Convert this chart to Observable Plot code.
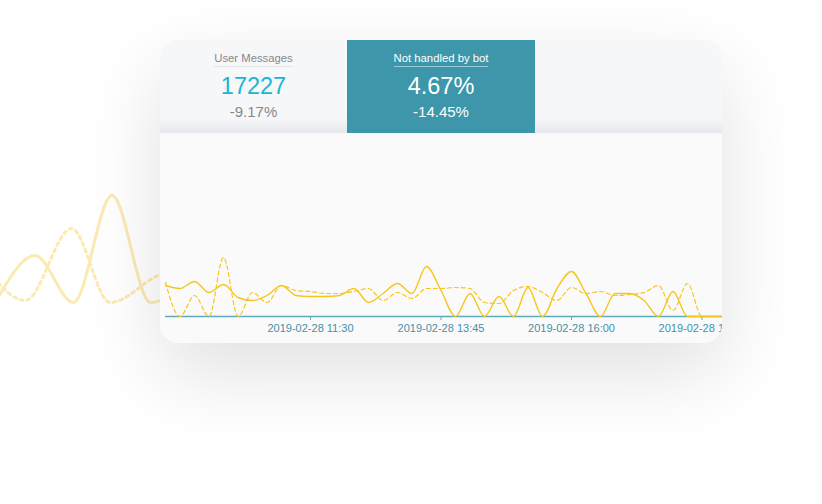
<!DOCTYPE html>
<html>
<head>
<meta charset="utf-8">
<script src="https://cdn.jsdelivr.net/npm/d3@7"></script>
<script src="https://cdn.jsdelivr.net/npm/@observablehq/plot@0.6"></script>
<style>
  html, body { margin: 0; padding: 0; background: #fff; width: 822px; height: 504px; overflow: hidden; font-family: "Liberation Sans", Arial, sans-serif; }
  #deco { position: absolute; left: 0; top: 0; z-index: 0; }
  #card { position: absolute; left: 160px; top: 40px; width: 562px; height: 303px; border-radius: 18px; overflow: hidden; background: #fafafa; box-shadow: 0 30px 80px rgba(0,0,0,0.12); z-index: 1; }
  #header { position: absolute; left: 0; top: 0; width: 562px; height: 93px; background: linear-gradient(#f6f7f9 0%, #f6f7f9 84%, #e5e8ec 100%); }
  .tab { position: absolute; top: 0; height: 93px; text-align: center; }
  .tab .lbl { position: absolute; left: 0; right: 0; top: 12px; font-size: 11.3px; }
  .tab .lbl span { display: inline-block; padding-bottom: 2px; border-bottom: 1px solid #e6e6e6; }
  .tab .val { position: absolute; left: 0; right: 0; top: 33px; font-size: 23.5px; }
  .tab .chg { position: absolute; left: 0; right: 0; top: 63px; font-size: 15px; }
  #t1 { left: 0; width: 187px; color: #888; }
  #t1 .val { color: #19b5d5; }
  #t2 { left: 187px; width: 188px; background: #3d96a9; color: #fff; }
  #t2 .lbl span { border-bottom: 1px solid #9bcbd6; }
  #chart { position: absolute; left: 0; top: 93px; }
</style>
</head>
<body>
<div id="deco"></div>
<div id="card">
  <div id="header">
    <div class="tab" id="t1"><div class="lbl"><span id="l1"></span></div><div class="val" id="v1"></div><div class="chg" id="c1"></div></div>
    <div class="tab" id="t2"><div class="lbl"><span id="l2"></span></div><div class="val" id="v2"></div><div class="chg" id="c2"></div></div>
  </div>
  <div id="chart"></div>
</div>
<script>
// KPI tabs
const kpiLabels = ["User Messages", "Not handled by bot"];
const kpiValues = ["17227", "4.67%"];
const kpiChanges = ["-9.17%", "-14.45%"];

// time series: 15-minute buckets starting 2019-02-28 09:00
const startTime = "2019-02-28T09:00:00Z";
const stepMinutes = 15;
const solidSeries = [31,28,35,24,32,19,16,21,31,21,20,20,21,28,14,23,33,23,50,26,0,23,0,20,0,29,0,28,45,23,0,23,23,16,0,25,0,0,0,0];
const dashedSeries = [34,0,21,0,59,0,24,14,31,26,25,23,23,25,28,16,24,18,28,28,29,28,14,13,26,30,24,16,29,23,25,21,22,24,31,6,33,0,0,0];
const tickLabels = ["2019-02-28T11:30:00Z", "2019-02-28T13:45:00Z", "2019-02-28T16:00:00Z", "2019-02-28T18:15:00Z"];

// decorative background wave (left of the card)
const decoSolidT = [0, 1, 2, 3, 4, 5];
const decoSolidV = [2, 47, 0, 107, 0, 20];
const decoDotT = [-0.4, 0.75, 1.95, 2.95, 4.2, 5.3];
const decoDotV = [42, 2, 74, 0, 27, 40];

document.getElementById("l1").textContent = kpiLabels[0];
document.getElementById("l2").textContent = kpiLabels[1];
document.getElementById("v1").textContent = kpiValues[0];
document.getElementById("v2").textContent = kpiValues[1];
document.getElementById("c1").textContent = kpiChanges[0];
document.getElementById("c2").textContent = kpiChanges[1];

const t0 = new Date(startTime);
const timeAt = i => new Date(+t0 + i * stepMinutes * 60000);
const rows = solidSeries.map((v, i) => ({t: timeAt(i), solid: v, dashed: dashedSeries[i]}));
const yellow = "#f7c61e";
const teal = "#5cabbe";

const chart = Plot.plot({
  width: 562,
  height: 210,
  marginLeft: 5,
  marginRight: 0,
  marginTop: 0,
  marginBottom: 27,
  style: {background: "transparent", fontFamily: "Liberation Sans, Arial, sans-serif", fontSize: "11px", overflow: "visible"},
  x: {type: "utc", domain: [timeAt(0), timeAt(solidSeries.length - 1)], range: [5, 5 + 14.5 * (solidSeries.length - 1)]},
  y: {domain: [0, 180], range: [183, 3], axis: null},
  marks: [
    Plot.ruleY([0], {stroke: teal, strokeWidth: 1.5}),
    Plot.axisX(tickLabels.map(d => new Date(d)), {
      tickSize: 4, tickPadding: 4, stroke: teal, color: "#4391ab",
      tickFormat: d3.utcFormat("%Y-%m-%d %H:%M"), label: null
    }),
    Plot.line(rows, {x: "t", y: "dashed", curve: "monotone-x", stroke: yellow, strokeWidth: 1.2, strokeDasharray: "4,3"}),
    Plot.line(rows, {x: "t", y: "solid", curve: "monotone-x", stroke: yellow, strokeWidth: 1.4})
  ]
});
document.getElementById("chart").appendChild(chart);

const decoSolid = decoSolidT.map((t, i) => ({t, v: decoSolidV[i]}));
const decoDot = decoDotT.map((t, i) => ({t, v: decoDotV[i]}));
const deco = Plot.plot({
  width: 822,
  height: 504,
  margin: 0,
  style: {background: "transparent", overflow: "visible"},
  x: {domain: [0, 5], range: [-4, 188.5], axis: null},
  y: {domain: [0, 120], range: [302, 182], axis: null},
  marks: [
    Plot.line(decoDot, {x: "t", y: "v", curve: "monotone-x", stroke: "#fbeab2", strokeWidth: 3, strokeDasharray: "3,4"}),
    Plot.line(decoSolid, {x: "t", y: "v", curve: "monotone-x", stroke: "#fbeab2", strokeWidth: 3})
  ]
});
document.getElementById("deco").appendChild(deco);
</script>
</body>
</html>
